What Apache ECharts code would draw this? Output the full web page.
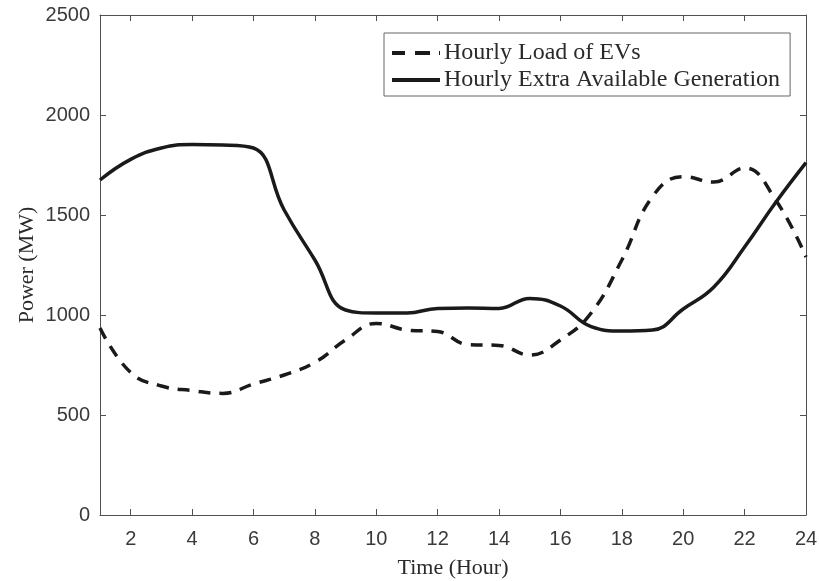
<!DOCTYPE html>
<html>
<head>
<meta charset="utf-8">
<script src="https://cdn.jsdelivr.net/npm/echarts@6/dist/echarts.min.js"></script>
<style>html,body{margin:0;padding:0;background:#fff}#c{width:819px;height:581px}</style>
</head>
<body>
<div id="c"></div>
<script>
const hours = [1,2,3,4,5,6,7,8,9,10,11,12,13,14,15,16,17,18,19,20,21,22,23,24];
const evLoad = [935,712,645,622,608,655,700,763,875,958,925,917,852,848,800,875,1010,1275,1592,1692,1665,1735,1578,1290];
const extraGen = [1675,1778,1835,1852,1850,1835,1525,1275,1025,1010,1010,1033,1035,1033,1083,1045,942,920,925,1030,1140,1340,1560,1762];
const xTicks = [2,4,6,8,10,12,14,16,18,20,22,24];
const yTicks = [0,500,1000,1500,2000,2500];
const names = ['Hourly Load of EVs','Hourly Extra Available Generation'];

const axisColor = '#505050';
const dashIcon = 'path://M0,0h13v4h-13z M23,0h15v4h-15z M47,0h1v4h-1z';
const solidIcon = 'path://M0,0h48v4h-48z';
const chart = echarts.init(document.getElementById('c'));
chart.setOption({
  animation: false,
  backgroundColor: '#fff',
  grid: {left: 100, top: 15, right: 13, bottom: 66, containLabel: false, outerBoundsMode: 'none'},
  legend: {
    orient: 'vertical', left: 384, top: 33,
    data: [{name: names[0], icon: dashIcon}, {name: names[1], icon: solidIcon}],
    itemWidth: 48, itemHeight: 4, itemGap: 3,
    padding: [8, 10, 4, 8],
    borderColor: '#666', borderWidth: 1,
    backgroundColor: '#fff',
    itemStyle: {color: '#1a1a1a'},
    textStyle: {fontFamily: 'Liberation Serif', fontSize: 24, lineHeight: 24, color: '#2a2a2a', padding: [0,0,0,-1]}
  },
  xAxis: [{
    type: 'value', min: 1, max: 24,
    name: 'Time (Hour)', nameLocation: 'middle', nameGap: 42, nameMoveOverlap: false,
    nameTextStyle: {fontFamily: 'Liberation Serif', fontSize: 22, color: '#2a2a2a'},
    axisLine: {show: true, lineStyle: {color: axisColor, width: 1}},
    axisTick: {show: true, inside: true, length: 6, customValues: xTicks, lineStyle: {color: axisColor}},
    axisLabel: {customValues: xTicks, fontFamily: 'Liberation Sans', fontSize: 20, color: '#3a3a3a', margin: 14},
    splitLine: {show: false}
  }, {
    type: 'value', min: 1, max: 24, position: 'top',
    axisLine: {show: true, onZero: false, lineStyle: {color: axisColor, width: 1}},
    axisTick: {show: true, inside: true, length: 6, customValues: xTicks, lineStyle: {color: axisColor}},
    axisLabel: {show: false},
    splitLine: {show: false}
  }],
  yAxis: [{
    type: 'value', min: 0, max: 2500, interval: 500,
    name: 'Power (MW)', nameLocation: 'middle', nameGap: 62, nameMoveOverlap: false,
    nameTextStyle: {fontFamily: 'Liberation Serif', fontSize: 22, color: '#2a2a2a'},
    axisLine: {show: true, lineStyle: {color: axisColor, width: 1}},
    axisTick: {show: true, inside: true, length: 6, lineStyle: {color: axisColor}},
    axisLabel: {fontFamily: 'Liberation Sans', fontSize: 20, color: '#3a3a3a', margin: 10, formatter: v => String(v)},
    splitLine: {show: false}
  }, {
    type: 'value', min: 0, max: 2500, interval: 500, position: 'right',
    axisLine: {show: true, onZero: false, lineStyle: {color: axisColor, width: 1}},
    axisTick: {show: true, inside: true, length: 6, lineStyle: {color: axisColor}},
    axisLabel: {show: false},
    splitLine: {show: false}
  }],
  series: [{
    name: names[0], type: 'line', smooth: 0.45, symbol: 'none',
    data: hours.map((h, i) => [h, evLoad[i]]),
    lineStyle: {color: '#1a1a1a', width: 3.5, type: [12, 9]},
    itemStyle: {color: '#1a1a1a'}
  }, {
    name: names[1], type: 'line', smooth: 0.45, symbol: 'none',
    data: hours.map((h, i) => [h, extraGen[i]]),
    lineStyle: {color: '#1a1a1a', width: 3.5},
    itemStyle: {color: '#1a1a1a'}
  }]
});
</script>
</body>
</html>
